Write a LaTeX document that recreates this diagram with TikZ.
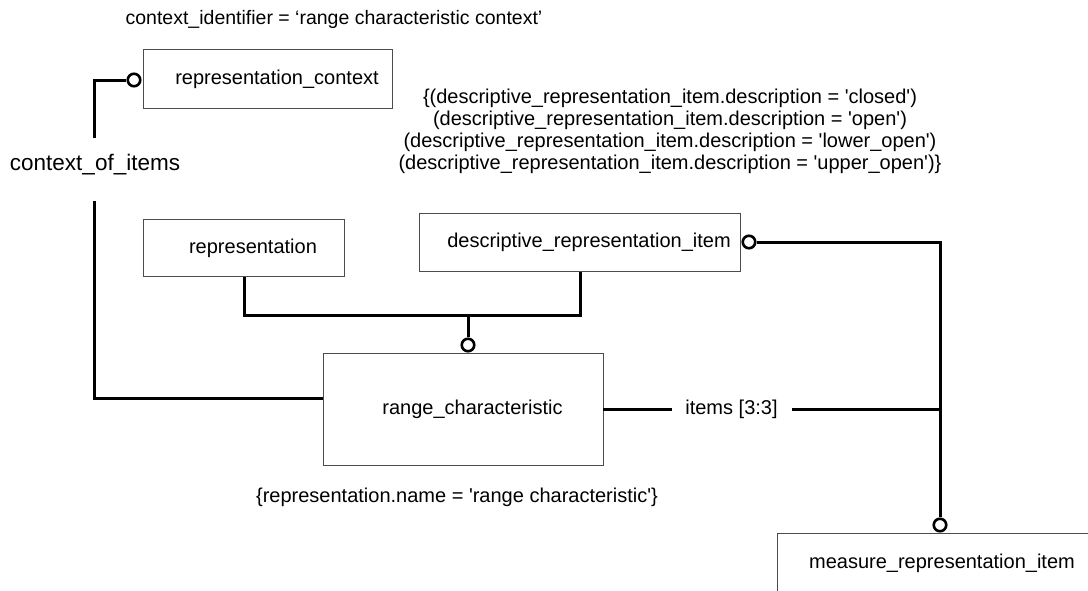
\documentclass[tikz,border=0pt]{standalone}
\usepackage{fontspec}
\setmainfont{Liberation Sans}
\newcommand{\sqt}{\textquotesingle}
\begin{document}
\begin{tikzpicture}[x=1pt,y=-1pt,
  ent/.style={draw=black!70, line width=1pt, inner sep=0pt},
  conn/.style={line width=3pt},
  ring/.style={circle, draw, line width=2.6pt, fill=white, minimum size=12.5pt, inner sep=0pt},
  txt/.style={inner sep=0pt, font=\fontsize{20}{22}\selectfont, align=center},
  etext/.style={txt, xshift=9pt}
]
\useasboundingbox (0,0) rectangle (1088,590);

% entity boxes, names set slightly right of centre
\node[ent, anchor=north west, minimum width=249pt, minimum height=59pt,
  label={[etext]center:representation\_context}] (repctx) at (143,49) {};
\node[ent, anchor=north west, minimum width=201pt, minimum height=57pt,
  label={[etext]center:representation}] (repr) at (143,219) {};
\node[ent, anchor=north west, minimum width=321pt, minimum height=58pt,
  label={[etext]center:descriptive\_representation\_item}] (desc) at (419,213) {};
\node[ent, anchor=north west, minimum width=280pt, minimum height=112pt,
  label={[etext]center:range\_characteristic}] (rc) at (323,353) {};
\begin{scope}
  \clip (0,0) rectangle (1088,590);
  \node[ent, anchor=north west, minimum width=312pt, minimum height=60pt] (mri) at (777,533) {};
\end{scope}
\node[txt] (mritext) at (942,563) {measure\_representation\_item};

% free texts
\node[txt, font=\fontsize{19.5}{22}\selectfont] (ctxid) at (334,19) {context\_identifier = ‘range characteristic context’};
\node[txt] (cons) at (670,131) {\{(descriptive\_representation\_item.description = \sqt closed\sqt)\\
(descriptive\_representation\_item.description = \sqt open\sqt)\\
(descriptive\_representation\_item.description = \sqt lower\_open\sqt)\\
(descriptive\_representation\_item.description = \sqt upper\_open\sqt)\}};
\node[txt, anchor=base] (rcname) at (457,502) {\{representation.name = \sqt range characteristic\sqt\}};

% context_of_items
\node[ring] (c1) at (134,80) {};
\coordinate (coiTop) at (94,138);
\node[txt, font=\fontsize{22.5}{24}\selectfont] (coi) at (95,165) {context\_of\_items};
\coordinate (coiBot) at (94,201);
\coordinate (coiEnd) at (323,398);
\draw[conn] (c1.west) -| (coiTop);
\draw[conn] (coiBot) |- (coiEnd);

% supertypes of range_characteristic
\coordinate (join) at (468,315);
\node[ring] (c2) at (468,345) {};
\draw[conn] (repr.south) |- (join) -| (desc.south);
\draw[conn] (join) -- (c2.north);

% items [3:3]
\coordinate (itA) at (603,409);
\coordinate (itB) at (672,409);
\node[txt] (items) at (731.5,409) {items [3:3]};
\coordinate (itC) at (792,409);
\coordinate (itD) at (940,409);
\draw[conn] (itA) -- (itB);
\draw[conn] (itC) -- (itD);

% select branch
\node[ring] (c3) at (749,242) {};
\node[ring] (c4) at (940,525) {};
\coordinate (selR) at (940,242);
\draw[conn] (c3.east) -- (selR) -- (c4.north);
\end{tikzpicture}
\end{document}
